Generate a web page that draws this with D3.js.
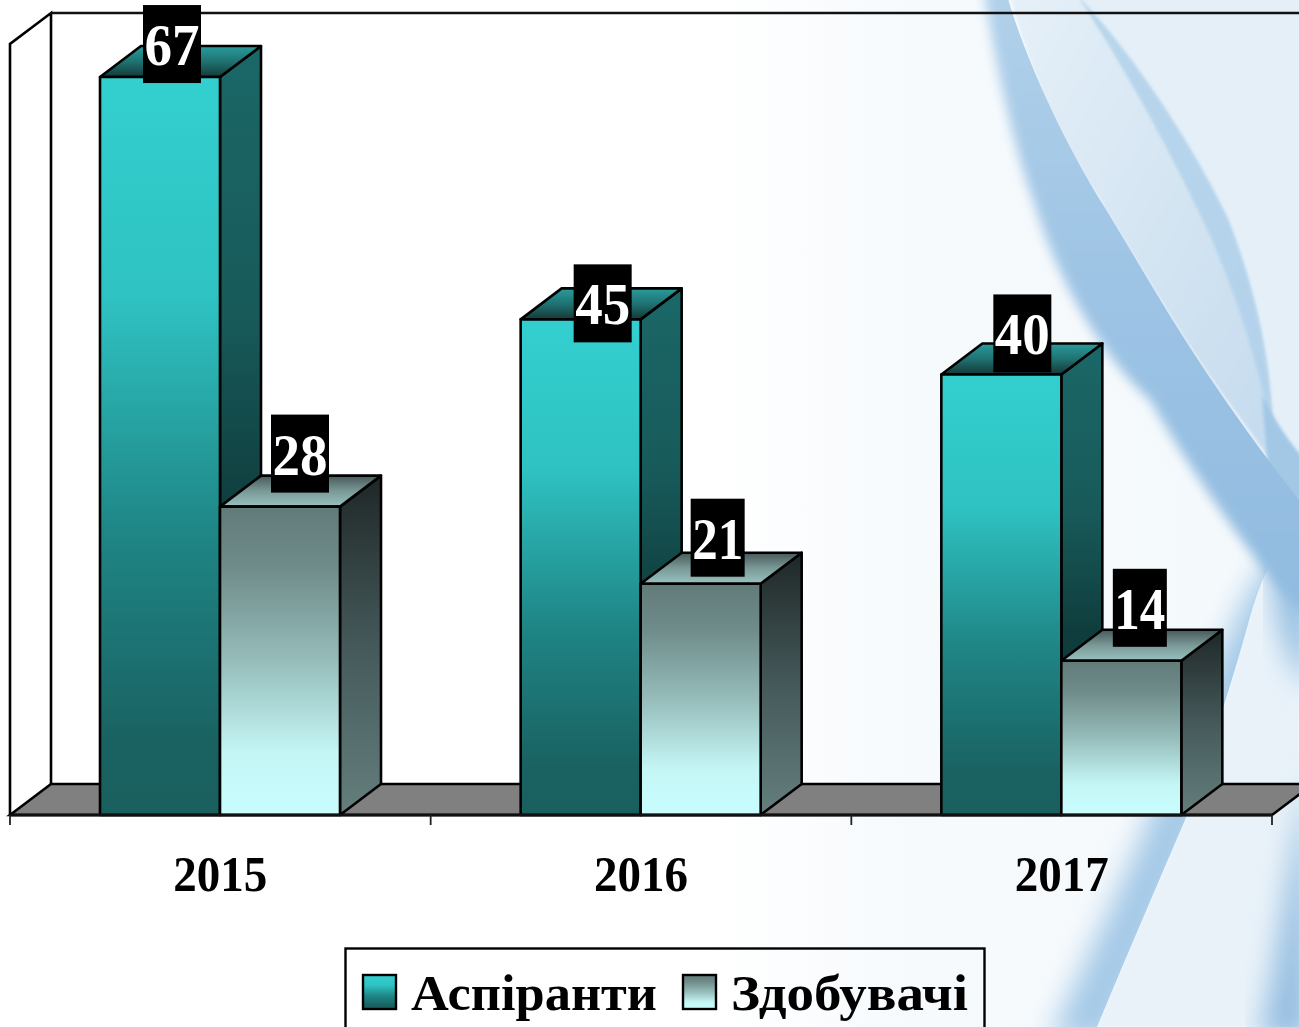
<!DOCTYPE html>
<html><head><meta charset="utf-8">
<script src="https://cdn.jsdelivr.net/npm/d3@7"></script>
<style>html,body{margin:0;padding:0;background:#fff;overflow:hidden}svg{display:block}text{font-family:"Liberation Serif",serif;font-weight:bold}</style>
</head><body><svg id="c" width="1299" height="1027"></svg>
<script>
const categories = ["2015","2016","2017"];
const seriesNames = ["Аспіранти","Здобувачі"];
const aspiranty = [67,45,40];
const zdobuvachi = [28,21,14];

const svg = d3.select("#c");
const W = 1299, H = 1027;
const depthX = 41, depthY = 31;
const x0 = d3.scaleBand().domain(categories).range([10,1272]);
const x1 = d3.scaleBand().domain(seriesNames).range([90,330]);
const y = d3.scaleLinear().domain([0,70]).range([815,44]);

// label box nudges relative to each bar's front-top centre (same order as data)
const boxShift = {
  "Аспіранти":[[12,-33],[22,-16],[21,-41]],
  "Здобувачі":[[20,-53],[17,-46],[18.5,-53]]
};

const defs = svg.append("defs");
function grad(id, stops, x2=0, y2=1){
  const g = defs.append("linearGradient").attr("id",id).attr("x1",0).attr("y1",0).attr("x2",x2).attr("y2",y2);
  stops.forEach(([o,c])=>g.append("stop").attr("offset",o).attr("stop-color",c));
}
grad("a-front",[[0,"#33cfcf"],[.3,"#2fc2c2"],[.62,"#1f8585"],[.9,"#1a6262"],[1,"#195f5e"]]);
grad("a-side",[[0,"#1b6767"],[.35,"#185a5a"],[.62,"#0f3c3c"],[1,"#0d3535"]]);
grad("a-top",[[0,"#2a9c9c"],[.5,"#1f7272"],[1,"#163838"]]);
grad("b-front",[[0,"#617b79"],[.2,"#6f8c8a"],[.5,"#96bdba"],[.8,"#c4f6f6"],[1,"#c9fdfd"]]);
grad("b-side",[[0,"#1f2727"],[.5,"#45595a"],[1,"#647f7d"]]);
grad("b-top",[[0,"#47595a"],[.5,"#7a9997"],[1,"#98c2c0"]]);
grad("bg",[[0,"#ffffff"],[.55,"#ffffff"],[.7,"#f6fafd"],[1,"#f4f9fc"]],1,0);
grad("bandA",[[0,"#b2d1ea"],[.5,"#9cc3e4"],[1,"#8fbadf"]],0,1);
grad("leaf",[[0,"#e6f0f8"],[.55,"#d3e4f2"],[1,"#c4dbee"]],1,1);
function blurDef(id, sd){
  defs.append("filter").attr("id",id).attr("x","-30%").attr("y","-30%").attr("width","160%").attr("height","160%")
    .append("feGaussianBlur").attr("stdDeviation",sd);
}
blurDef("blur",14); blurDef("blurM",6); blurDef("blurS",1.5);
const bandEdge = "M1007 -5 C1022 50 1060 135 1100 200 C1150 280 1190 360 1299 500";
defs.append("clipPath").attr("id","clipBand").append("path").attr("d",bandEdge+" L1299 1027 L900 1027 L900 -5 Z");
const lowEdge = "M1299 520 C1280 545 1265 565 1250 617 C1230 690 1205 765 1185 820 C1155 890 1125 960 1097 1027";
defs.append("clipPath").attr("id","clipLow").append("path").attr("d",lowEdge+" L600 1027 L600 520 Z");

// background artwork
const bg = svg.append("g");
bg.append("rect").attr("width",W).attr("height",H).attr("fill","url(#bg)");
// pale upper right
bg.append("path").attr("d","M1040 -10 L1310 -10 L1310 480 L1250 420 Z").attr("fill","#e4eff8").attr("filter","url(#blurS)");
// lower right pale sheet
bg.append("path").attr("d",lowEdge+" L1299 1027 Z").attr("fill","#e9f2f9").attr("filter","url(#blurS)");
// right-edge blues
bg.append("path").attr("d","M1310 530 L1310 690 C1285 660 1272 610 1275 560 Z").attr("fill","#8fbbe0").attr("filter","url(#blur)");
bg.append("path").attr("d","M1310 770 L1310 1040 L1260 1040 C1280 950 1290 850 1310 770 Z").attr("fill","#93bde0").attr("filter","url(#blur)");
// lower ribbon: soft left, sharp right
bg.append("g").attr("clip-path","url(#clipLow)")
  .append("path").attr("d","M1299 520 L1340 560 L1200 830 L1110 1040 L1050 1040 C1085 960 1125 880 1152 810 C1185 740 1220 650 1250 590 Z")
  .attr("fill","#a4c9e7").attr("filter","url(#blur)");
// pale leaf
bg.append("path").attr("d","M1010 -5 L1077 -5 C1130 50 1190 140 1227 217 C1258 295 1272 370 1273 440 L1265 470 C1200 400 1140 300 1100 200 C1060 140 1030 70 1010 -5 Z").attr("fill","url(#leaf)").attr("filter","url(#blurS)");
// rim of the leaf
bg.append("path").attr("d","M1077 -5 C1130 50 1190 140 1227 217 C1258 295 1272 370 1273 440 C1262 380 1240 300 1205 225 C1170 150 1120 60 1077 -5 Z").attr("fill","#afd0ea").attr("filter","url(#blurS)").attr("opacity",.8);
// pale streak next to band
bg.append("path").attr("d","M1090 185 C1140 265 1185 345 1238 415 L1272 462 L1268 475 C1215 410 1160 330 1120 265 Z").attr("fill","#f3f8fc").attr("filter","url(#blurS)").attr("opacity",.85);
// wedge where rim meets band
bg.append("path").attr("d","M1262 395 C1275 420 1290 445 1310 465 L1310 530 L1268 470 Z").attr("fill","#a3c8e6").attr("filter","url(#blurS)");
// main blue band: soft left edge, crisp right edge
bg.append("g").attr("clip-path","url(#clipBand)")
  .append("path").attr("d","M982 -20 L1040 -20 L1120 200 L1240 400 L1330 520 L1330 640 L1280 590 C1240 540 1190 470 1150 400 C1110 365 1060 290 1033 200 C1015 150 998 80 982 -20 Z")
  .attr("fill","url(#bandA)").attr("filter","url(#blurM)");

// walls & floor
const yTop = y(70), base = y(0), xLeft = x0.range()[0], xRight = x0.range()[1];
const line = d3.line();
const sw = 2.6;
svg.append("path").attr("d",line([[xLeft,base],[xLeft,yTop],[xLeft+depthX,yTop-depthY],[xLeft+depthX,base-depthY]]))
  .attr("fill","#fff").attr("stroke","#000").attr("stroke-width",sw);
svg.append("path").attr("d",line([[xLeft+depthX,yTop-depthY],[xRight+depthX,yTop-depthY]]))
  .attr("fill","none").attr("stroke","#111").attr("stroke-width",sw);
svg.append("path").attr("d",line([[xLeft,base],[xLeft+depthX,base-depthY],[xRight+depthX,base-depthY],[xRight,base]])+"Z")
  .attr("fill","#808080").attr("stroke","#000").attr("stroke-width",sw);

// bars
const rows = seriesNames.map((name,s)=>({name,key:s?"b":"a",values:s?zdobuvachi:aspiranty}));
categories.forEach((cat,i)=>{
  rows.forEach(r=>{
    const g = svg.append("g").attr("stroke","#000").attr("stroke-width",sw).attr("stroke-linejoin","round");
    const xl = x0(cat)+x1(r.name), xr = xl+x1.bandwidth(), yt = y(r.values[i]);
    g.append("path").attr("d",line([[xr,yt],[xr+depthX,yt-depthY],[xr+depthX,base-depthY],[xr,base]])+"Z").attr("fill",`url(#${r.key}-side)`);
    g.append("path").attr("d",line([[xl,yt],[xl+depthX,yt-depthY],[xr+depthX,yt-depthY],[xr,yt]])+"Z").attr("fill",`url(#${r.key}-top)`);
    g.append("rect").attr("x",xl).attr("y",yt).attr("width",xr-xl).attr("height",base-yt).attr("fill",`url(#${r.key}-front)`);
  });
});

// axis
svg.append("path").attr("d",line([[xLeft,base],[xRight,base]])).attr("stroke","#111").attr("stroke-width",3).attr("fill","none");
const tickXs = categories.map(c=>x0(c)).concat([xRight]);
svg.selectAll("line.tick").data(tickXs).join("line").attr("class","tick")
  .attr("x1",d=>d).attr("x2",d=>d).attr("y1",base).attr("y2",base+10).attr("stroke","#222").attr("stroke-width",1.8);
const axis = svg.append("g").attr("transform",`translate(0,${base})`).call(d3.axisBottom(x0).tickSize(0).tickPadding(0));
axis.select(".domain").remove();
axis.selectAll("text").attr("font-size",51).attr("fill","#000").attr("dy",0).attr("y",76)
  .attr("textLength",94).attr("lengthAdjust","spacingAndGlyphs")
  .style("font-family",'"Liberation Serif",serif').style("font-weight","bold");

// value labels
categories.forEach((cat,i)=>{
  rows.forEach(r=>{
    const cx = x0(cat)+x1(r.name)+x1.bandwidth()/2+boxShift[r.name][i][0];
    const cy = y(r.values[i])+boxShift[r.name][i][1];
    const narrow = String(r.values[i]).includes("1");
    const bw = narrow ? 54 : 58;
    svg.append("rect").attr("x",cx-bw/2).attr("y",cy-39).attr("width",bw).attr("height",78).attr("fill","#000");
    svg.append("text").attr("x",cx).attr("y",cy+21).attr("text-anchor","middle").attr("fill","#fff")
      .attr("font-size",59).attr("textLength",bw-3).attr("lengthAdjust","spacingAndGlyphs").text(r.values[i]);
  });
});

// legend
const lg = svg.append("g");
lg.append("rect").attr("x",345.5).attr("y",948.5).attr("width",639).attr("height",100).attr("fill","none").attr("stroke","#000").attr("stroke-width",2.4);
const legendPos = [[362,411,246],[682,731,237]];
rows.forEach((r,i)=>{
  const [sx,tx,tw] = legendPos[i];
  lg.append("rect").attr("x",sx+1).attr("y",975).attr("width",33).attr("height",34).attr("fill",`url(#${r.key}-front)`).attr("stroke","#000").attr("stroke-width",2.4);
  lg.append("text").attr("x",tx).attr("y",1010).attr("font-size",51).attr("fill","#000")
    .attr("textLength",tw).attr("lengthAdjust","spacingAndGlyphs").text(r.name);
});
</script></body></html>
